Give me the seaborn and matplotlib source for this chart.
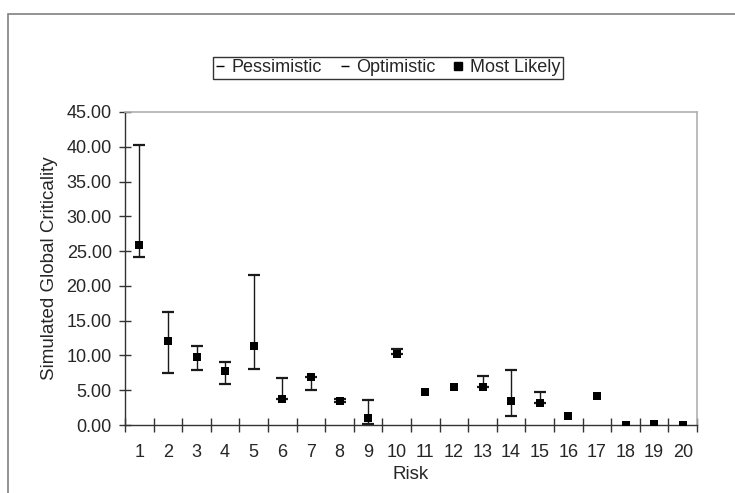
import matplotlib
matplotlib.use("Agg")
import matplotlib.pyplot as plt
import seaborn as sns
import pandas as pd
from matplotlib.lines import Line2D
from matplotlib.patches import Rectangle

risks = [str(i) for i in range(1, 21)]
most_likely = [25.9, 12.1, 9.8, 7.7, 11.3, 3.7, 6.9, 3.5, 1.0, 10.2,
               4.8, 5.5, 5.4, 3.4, 3.1, 1.3, 4.2, 0.05, 0.2, 0.05]
pessimistic = [40.3, 16.2, 11.4, 9.0, 21.5, 6.8, 6.9, 3.8, 3.6, 10.9,
               4.8, 5.5, 7.0, 7.9, 4.7, 1.3, 4.2, 0.05, 0.2, 0.05]
optimistic = [24.1, 7.5, 7.9, 5.9, 8.0, 3.7, 5.0, 3.3, 0.2, 10.2,
              4.8, 5.5, 5.4, 1.3, 3.1, 1.3, 4.2, 0.05, 0.2, 0.05]
y_ticks = [0, 5, 10, 15, 20, 25, 30, 35, 40, 45]

df = pd.DataFrame({"Risk": risks, "ML": most_likely,
                   "Pess": pessimistic, "Opt": optimistic})
df["pos"] = range(len(df))

sns.set_style("white")
plt.rcParams["font.family"] = ["Liberation Sans", "DejaVu Sans"]

fig = plt.figure(figsize=(7.35, 4.93), dpi=100)
ax = fig.add_axes([125/735, 1-425/493, (697-125)/735, (425-112)/493])

# outer chart border (only top and left visible in reference)
fig.patches.append(Rectangle((8/735, -0.2), 1.2, 1 - 14/493 + 0.2,
                             transform=fig.transFigure, fill=False,
                             edgecolor="#808080", linewidth=1.2))

rng = df[df["Pess"] != df["Opt"]]
ax.errorbar(rng["pos"], rng["ML"],
            yerr=[rng["ML"] - rng["Opt"], rng["Pess"] - rng["ML"]], fmt="none",
            ecolor="#1a1a1a", elinewidth=1.0, capsize=4.5, capthick=1.6, zorder=2)
sns.scatterplot(data=df, x="Risk", y="ML", marker="s", s=38, color="black",
                edgecolor="black", linewidth=0, ax=ax, zorder=3, legend=False)

ax.set_xlim(-0.5, len(risks) - 0.5)
ax.set_ylim(0, 45)
ax.set_yticks(y_ticks)
ax.set_yticklabels([f"{v:.2f}" for v in y_ticks])
ax.set_xticks(list(df["pos"]))
ax.set_xticklabels(risks)
ax.set_xticks([i - 0.5 for i in range(len(risks) + 1)], minor=True)
ax.tick_params(axis="x", which="major", length=0, pad=14, labelsize=13)
ax.tick_params(axis="x", which="minor", length=10, direction="inout",
               width=1, color="#333333", bottom=True)
ax.tick_params(axis="y", which="major", length=9, direction="inout",
               width=1, color="#333333", left=True, pad=5, labelsize=13)

for s in ["left", "bottom"]:
    ax.spines[s].set_color("#333333")
    ax.spines[s].set_linewidth(1.0)
for s in ["top", "right"]:
    ax.spines[s].set_color("#b0b0b0")
    ax.spines[s].set_linewidth(1.2)

ax.set_xlabel("Risk", fontsize=13.5, labelpad=3)
ax.set_ylabel("Simulated Global Criticality", fontsize=13.5, labelpad=6)

handles = [Line2D([], [], linestyle="none", marker="_", color="black", markersize=6),
           Line2D([], [], linestyle="none", marker="_", color="black", markersize=6),
           Line2D([], [], linestyle="none", marker="s", color="black", markersize=6)]
leg = fig.legend(handles, ["Pessimistic", "Optimistic", "Most Likely"],
                 loc="center", bbox_to_anchor=(388/735, 1 - 68/493), ncol=3,
                 frameon=True, fancybox=False, fontsize=13, handlelength=0.5,
                 handletextpad=0.4, columnspacing=1.0, borderpad=0.15,
                 borderaxespad=0)
leg.get_frame().set_edgecolor("black")
leg.get_frame().set_linewidth(1.0)

fig.savefig("out.png", dpi=100)
